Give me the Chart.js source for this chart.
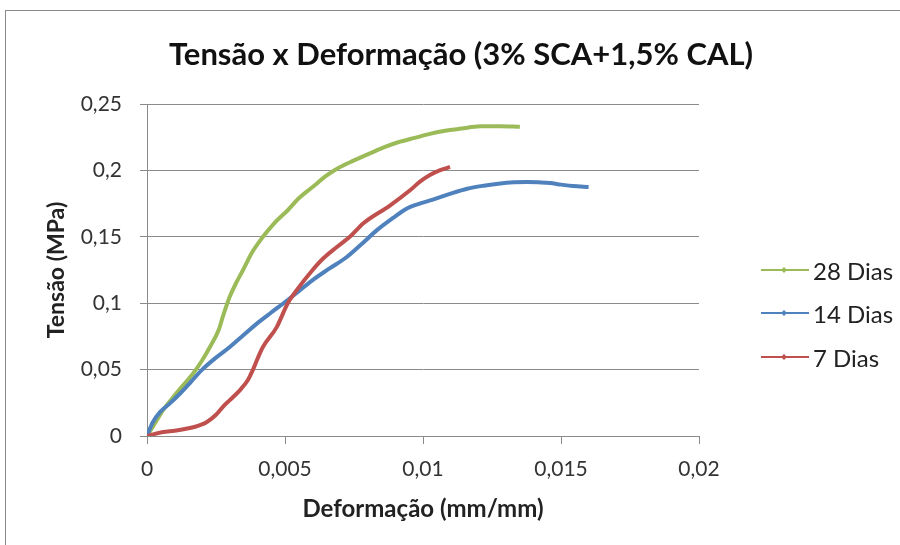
<!DOCTYPE html>
<html>
<head>
<meta charset="utf-8">
<script src="https://cdn.jsdelivr.net/npm/chart.js@4.4.0/dist/chart.umd.min.js"></script>
<style>
  html, body { margin: 0; padding: 0; background: #fff; }
  #wrap { width: 900px; height: 545px; }
</style>
</head>
<body>
<div id="wrap"><canvas id="grafico" width="900" height="545"></canvas></div>
<script>
// Dados (deformação mm/mm x tensão MPa)
const nomesSeries = ['28 Dias', '14 Dias', '7 Dias'];
const coresSeries = ['#9BBB59', '#4F81BD', '#C0504D'];

const def28 = [0, 0.0003, 0.0006, 0.00094, 0.0013, 0.00167, 0.002, 0.00228, 0.0026, 0.00275, 0.003, 0.00325, 0.00348, 0.0038, 0.0042, 0.0046, 0.0051, 0.0055, 0.006, 0.0065, 0.0069, 0.0075, 0.0081, 0.0086, 0.0091, 0.0097, 0.01025, 0.0107, 0.0114, 0.01207, 0.0128, 0.01351];
const ten28 = [0, 0.01, 0.02, 0.029, 0.038, 0.047, 0.057, 0.067, 0.08, 0.09, 0.105, 0.116, 0.125, 0.138, 0.15, 0.16, 0.17, 0.179, 0.1875, 0.196, 0.2015, 0.2075, 0.213, 0.2175, 0.2212, 0.2245, 0.2275, 0.2295, 0.2315, 0.2332, 0.2333, 0.2328];

const def14 = [0, 0.0002, 0.00047, 0.0008, 0.0012, 0.0016, 0.002, 0.0025, 0.003, 0.0035, 0.004, 0.0045, 0.0051, 0.0055, 0.006, 0.0066, 0.00724, 0.0078, 0.00833, 0.0089, 0.0094, 0.0098, 0.01036, 0.011, 0.0116, 0.0122, 0.0128, 0.0133, 0.01377, 0.0142, 0.0146, 0.015, 0.01543, 0.016];
const ten14 = [0, 0.01, 0.018, 0.024, 0.032, 0.041, 0.05, 0.059, 0.067, 0.076, 0.085, 0.093, 0.1024, 0.109, 0.1174, 0.126, 0.1348, 0.145, 0.155, 0.164, 0.1712, 0.1745, 0.178, 0.1825, 0.1862, 0.1885, 0.1902, 0.191, 0.1913, 0.191, 0.1905, 0.1893, 0.1882, 0.1875];

const def7 = [0, 0.00058, 0.001, 0.00156, 0.0019, 0.00217, 0.0025, 0.00275, 0.003, 0.00337, 0.00365, 0.00384, 0.004, 0.0042, 0.0047, 0.0051, 0.00543, 0.006, 0.0064, 0.00688, 0.0074, 0.00783, 0.0088, 0.00953, 0.00989, 0.01025, 0.0106, 0.01098];
const ten7 = [0, 0.003, 0.004, 0.006, 0.008, 0.0105, 0.016, 0.022, 0.027, 0.0346, 0.042, 0.05, 0.058, 0.067, 0.082, 0.1, 0.11, 0.125, 0.134, 0.1423, 0.151, 0.16, 0.1735, 0.185, 0.1915, 0.1965, 0.2, 0.2026];

const rotulosX = ['0', '0,005', '0,01', '0,015', '0,02'];
const rotulosY = ['0', '0,05', '0,1', '0,15', '0,2', '0,25'];

const fonte = 'Lato, "Open Sans", sans-serif';
const cinza = '#8a8a8a';

function pontos(xs, ys) {
    return xs.map((x, i) => ({ x: x, y: ys[i] }));
}

const seriesXY = [pontos(def28, ten28), pontos(def14, ten14), pontos(def7, ten7)];

// moldura do gráfico + legenda estilo Excel
const extras = {
    id: 'extras',
    beforeDraw(chart) {
        const ctx = chart.ctx;
        ctx.save();
        ctx.strokeStyle = cinza;
        ctx.lineWidth = 1;
        ctx.strokeRect(5.5, 10.5, 1000, 1000);
        ctx.restore();
    },
    afterDraw(chart) {
        const ctx = chart.ctx;
        ctx.save();
        const ys = [270, 313, 357];
        nomesSeries.forEach((nome, i) => {
            const y = ys[i];
            ctx.strokeStyle = coresSeries[i];
            ctx.lineWidth = 2;
            ctx.beginPath();
            ctx.moveTo(761, y);
            ctx.lineTo(809, y);
            ctx.stroke();
            ctx.fillStyle = coresSeries[i];
            ctx.beginPath();
            ctx.moveTo(784, y - 3);
            ctx.lineTo(787, y);
            ctx.lineTo(784, y + 3);
            ctx.lineTo(781, y);
            ctx.closePath();
            ctx.fill();
            ctx.fillStyle = '#222';
            ctx.font = '24px ' + fonte;
            ctx.textBaseline = 'middle';
            ctx.fillText(nome, 813, y + 2);
        });
        ctx.restore();
    }
};

new Chart(document.getElementById('grafico'), {
    type: 'scatter',
    data: {
        datasets: nomesSeries.map((nome, i) => ({
            label: nome,
            data: seriesXY[i],
            showLine: true,
            borderColor: coresSeries[i],
            backgroundColor: coresSeries[i],
            borderWidth: 4,
            pointRadius: 0,
            cubicInterpolationMode: 'monotone',
            order: 3 - i
        }))
    },
    options: {
        responsive: false,
        animation: false,
        layout: { padding: { left: 22, top: 10, right: 0, bottom: 0 } },
        plugins: {
            legend: { display: false },
            tooltip: { enabled: false },
            title: {
                display: true,
                text: 'Tensão x Deformação (3% SCA+1,5% CAL)',
                color: '#111',
                font: { family: fonte, size: 31, weight: 'bold' },
                padding: { top: 26.4, bottom: 30.4 }
            }
        },
        scales: {
            x: {
                type: 'linear',
                min: 0,
                max: 0.02,
                afterFit(s) { s.height = 109; },
                afterBuildTicks(s) {
                    s.ticks = rotulosX.map((_, i) => ({ value: i * 0.005 }));
                },
                ticks: {
                    color: '#333',
                    font: { family: fonte, size: 21 },
                    padding: 13,
                    maxRotation: 0,
                    callback: (v, i) => rotulosX[i]
                },
                grid: { drawOnChartArea: false, drawTicks: true, tickLength: 8, color: cinza },
                border: { color: cinza },
                title: {
                    display: true,
                    text: 'Deformação (mm/mm)',
                    color: '#222',
                    font: { family: fonte, size: 24, weight: 'bold' },
                    padding: { top: 0, bottom: 21 }
                }
            },
            y: {
                type: 'linear',
                min: 0,
                max: 0.25,
                afterFit(s) { s.width = 125; },
                afterBuildTicks(s) {
                    s.ticks = rotulosY.map((_, i) => ({ value: i * 0.05 }));
                },
                ticks: {
                    color: '#333',
                    font: { family: fonte, size: 21 },
                    padding: 18,
                    callback: (v, i) => rotulosY[i]
                },
                grid: { color: cinza, tickLength: 7 },
                border: { color: cinza },
                title: {
                    display: true,
                    text: 'Tensão (MPa)',
                    color: '#222',
                    font: { family: fonte, size: 23, weight: 'bold' },
                    padding: { top: 21, bottom: 0 }
                }
            },
            espaco: {
                type: 'linear',
                position: 'right',
                display: true,
                afterFit(s) { s.width = 201; },
                ticks: { display: false },
                grid: { display: false },
                border: { display: false }
            }
        }
    },
    plugins: [extras]
});
</script>
</body>
</html>
